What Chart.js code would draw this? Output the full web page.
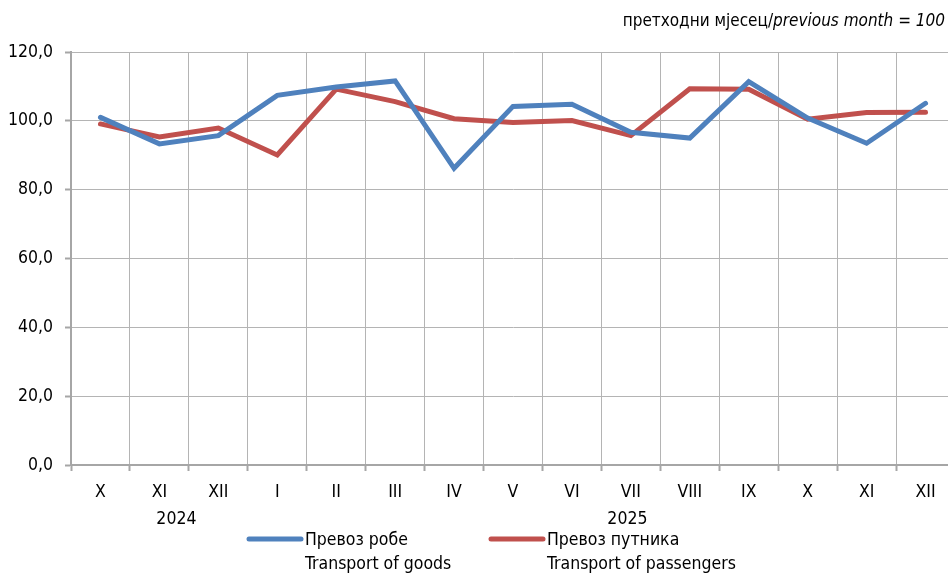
<!DOCTYPE html>
<html>
<head>
<meta charset="utf-8">
<script src="https://cdn.jsdelivr.net/npm/chart.js@4.4.1/dist/chart.umd.min.js"></script>
<style>
  html, body { margin: 0; padding: 0; background: #fff; overflow: hidden; }
  #wrap { position: relative; width: 955px; height: 573px; }
</style>
</head>
<body>
<div id="wrap"><canvas id="chart" width="955" height="573"></canvas></div>
<script>
// months on the category axis
var MONTHS = ['X', 'XI', 'XII', 'I', 'II', 'III', 'IV', 'V', 'VI', 'VII', 'VIII', 'IX', 'X', 'XI', 'XII'];
// year groups: first and last month index
var YEAR_NAMES = ['2024', '2025'];
var YEAR_FROM = [0, 3];
var YEAR_TO = [2, 14];

// previous month = 100
var GOODS = [101.0, 93.3, 95.7, 107.4, 109.8, 111.6, 86.2, 104.2, 104.8, 96.7, 95.0, 111.4, 100.8, 93.5, 105.1];
var PASSENGERS = [99.1, 95.3, 97.9, 90.1, 109.2, 105.6, 100.6, 99.5, 100.1, 95.7, 109.3, 109.2, 100.5, 102.4, 102.5];

var SERIES_NAMES = ['Превоз робе', 'Превоз путника'];
var SERIES_NAMES_EN = ['Transport of goods', 'Transport of passengers'];
var Y_TICKS = [0, 20, 40, 60, 80, 100, 120];

var FONT = "'Liberation Sans Narrow', 'Arial Narrow', 'DejaVu Sans Condensed', 'Liberation Sans', sans-serif";
var BLUE = '#4f81bd';
var RED = '#c0504d';

// title top right, legend and year labels
var extras = {
  id: 'extras',
  afterDraw: function (chart) {
    var c = chart.ctx;
    var xs = chart.scales.x;
    var step = xs.width / MONTHS.length;
    c.save();
    c.fillStyle = '#000';
    c.textBaseline = 'middle';

    // title, mixed upright / italic
    var t1 = 'претходни мјесец/';
    var t2 = 'previous month = 100';
    c.font = 'italic 17px ' + FONT;
    var w2 = c.measureText(t2).width;
    c.font = '17px ' + FONT;
    var w1 = c.measureText(t1).width;
    var right = 945;
    c.textAlign = 'left';
    c.fillText(t1, right - w2 - w1, 22);
    c.font = 'italic 17px ' + FONT;
    c.fillText(t2, right - w2, 22);

    // years under month labels
    c.font = '17.5px ' + FONT;
    c.textAlign = 'center';
    YEAR_NAMES.forEach(function (y, i) {
      var mid = xs.left + ((YEAR_FROM[i] + YEAR_TO[i]) / 2 + 0.5) * step;
      c.fillText(y, mid + (i === 0 ? 17 : 26), 519);
    });

    // legend
    var lx = [247, 489];
    var colors = [BLUE, RED];
    c.textAlign = 'left';
    c.lineCap = 'round';
    for (var i = 0; i < 2; i++) {
      c.strokeStyle = colors[i];
      c.lineWidth = 5;
      c.beginPath();
      c.moveTo(lx[i] + 2, 539);
      c.lineTo(lx[i] + 54, 539);
      c.stroke();
      c.fillText(SERIES_NAMES[i], lx[i] + 58, 540);
      c.fillText(SERIES_NAMES_EN[i], lx[i] + 58, 564);
    }
    c.restore();
  }
};

new Chart(document.getElementById('chart').getContext('2d'), {
  type: 'line',
  data: {
    labels: MONTHS,
    datasets: [
      { label: SERIES_NAMES[0], data: GOODS, borderColor: BLUE, backgroundColor: BLUE },
      { label: SERIES_NAMES[1], data: PASSENGERS, borderColor: RED, backgroundColor: RED }
    ]
  },
  options: {
    responsive: false,
    animation: false,
    devicePixelRatio: 1,
    layout: { padding: { top: 52, left: 0, right: 0, bottom: 0 } },
    elements: {
      line: { borderWidth: 5, tension: 0, borderCapStyle: 'round', borderJoinStyle: 'miter' },
      point: { radius: 0, hoverRadius: 0 }
    },
    plugins: {
      legend: { display: false },
      title: { display: false },
      tooltip: { enabled: false }
    },
    scales: {
      x: {
        offset: true,
        afterFit: function (s) { s.height = 108; },
        grid: { offset: true, color: '#b4b4b4', lineWidth: 1, tickLength: 6, drawTicks: true, tickColor: '#a6a6a6', tickWidth: 2 },
        border: { color: '#a6a6a6', width: 2 },
        ticks: { color: '#000', font: { family: FONT, size: 17.5 }, padding: 11, maxRotation: 0, autoSkip: false }
      },
      y: {
        min: 0,
        max: 120,
        afterFit: function (s) { s.width = 71; },
        afterBuildTicks: function (s) { s.ticks = Y_TICKS.map(function (v) { return { value: v }; }); },
        grid: { color: '#b4b4b4', lineWidth: 1, tickLength: 6, tickColor: '#a6a6a6', tickWidth: 2 },
        border: { color: '#a6a6a6', width: 2 },
        ticks: {
          color: '#000',
          font: { family: FONT, size: 17.5 },
          padding: 12,
          callback: function (v) { return v.toFixed(1).replace('.', ','); }
        }
      }
    }
  },
  plugins: [extras]
});
</script>
</body>
</html>
